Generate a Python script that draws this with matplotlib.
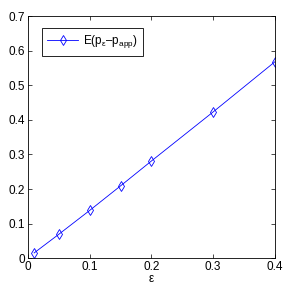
import matplotlib
matplotlib.use("Agg")
import matplotlib.pyplot as plt

# valeurs
eps = [0.01, 0.05, 0.1, 0.15, 0.2, 0.3, 0.4]
erreur = [0.015, 0.069, 0.138, 0.209, 0.281, 0.423, 0.568]
xticks = [0, 0.1, 0.2, 0.3, 0.4]
yticks = [0, 0.1, 0.2, 0.3, 0.4, 0.5, 0.6, 0.7]

plt.rcParams['font.family'] = ['Liberation Sans', 'DejaVu Sans']
plt.rcParams['font.size'] = 8.5
plt.rcParams['mathtext.fontset'] = 'custom'
plt.rcParams['mathtext.rm'] = 'Liberation Sans'
plt.rcParams['mathtext.it'] = 'Liberation Sans'
plt.rcParams['mathtext.default'] = 'regular'

fig = plt.figure(figsize=(2.94, 2.94), dpi=100)
ax = fig.add_axes([0.095, 0.122, 0.84, 0.823])

ax.plot(eps, erreur, color='b', linewidth=0.6, marker='d', markersize=5.5,
        markerfacecolor='none', markeredgecolor='b', markeredgewidth=0.6,
        label='E(p$_{ε}$–p$_{app}$)')

ax.set_xlim(0, 0.4)
ax.set_ylim(0, 0.7)
ax.set_xticks(xticks)
ax.set_yticks(yticks)
ax.set_xticklabels(['0', '0.1', '0.2', '0.3', '0.4'])
ax.set_yticklabels(['0', '0.1', '0.2', '0.3', '0.4', '0.5', '0.6', '0.7'])
ax.tick_params(direction='in', length=3, width=0.5, top=True, right=True,
               labeltop=False, labelright=False, pad=2)
for s in ax.spines.values():
    s.set_linewidth(0.6)
ax.set_xlabel('ε', labelpad=0)

leg = ax.legend(loc='upper left', bbox_to_anchor=(0.033, 0.975), fancybox=False,
                edgecolor='k', framealpha=1, handlelength=2.6, handletextpad=0.4,
                borderpad=0.45, fontsize=8.5)
leg.get_frame().set_linewidth(0.6)

fig.savefig('out.png', dpi=100)
